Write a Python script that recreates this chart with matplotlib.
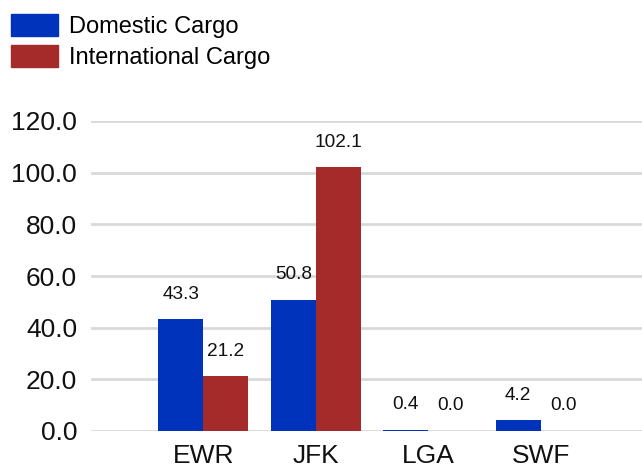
import matplotlib
matplotlib.use("Agg")
import matplotlib.pyplot as plt
from matplotlib.patches import Patch
import numpy as np

plt.rcParams['font.family'] = ['Liberation Sans', 'DejaVu Sans']

categories = ["EWR", "JFK", "LGA", "SWF"]
domestic = [43.3, 50.8, 0.4, 4.2]
international = [21.2, 102.1, 0.0, 0.0]
series_names = ["Domestic Cargo", "International Cargo"]
yticks = [0, 20, 40, 60, 80, 100, 120]

c_dom = "#0033bb"
c_int = "#a52a2a"

fig = plt.figure(figsize=(6.42, 4.67), dpi=100)
ax = fig.add_axes([91/642, 36/467, 551/642, 310/467])

x = np.arange(len(categories))
w = 0.4
b1 = ax.bar(x - w/2, domestic, w, color=c_dom, zorder=3)
b2 = ax.bar(x + w/2, international, w, color=c_int, zorder=3)

for bars, vals in ((b1, domestic), (b2, international)):
    for rect, v in zip(bars, vals):
        ax.annotate(f"{v:.1f}", (rect.get_x() + rect.get_width()/2, v),
                    xytext=(0, 25), textcoords="offset pixels",
                    ha="center", va="center", fontsize=13.7, color="#111111")

ax.set_xlim(-1.0, 3.9)
ax.set_ylim(0, 120)
ax.set_yticks(yticks)
ax.set_yticklabels([f"{v:.1f}" for v in yticks])
ax.set_xticks(x)
ax.set_xticklabels(categories)
ax.tick_params(axis='both', length=0, labelsize=19, colors="#111111")
ax.tick_params(axis='y', pad=10)
ax.tick_params(axis='x', pad=9.5)
ax.yaxis.grid(True, color="#d9d9d9", linewidth=2, zorder=0)
for s in ax.spines.values():
    s.set_visible(False)

handles = [Patch(color=c_dom), Patch(color=c_int)]
fig.legend(handles, series_names, loc="upper left", bbox_to_anchor=(-0.014, 1.013),
           frameon=False, fontsize=17, handlelength=2.0, handleheight=1.05,
           handletextpad=0.45, labelspacing=0.3, borderpad=0.35)

fig.savefig("out.png", dpi=100)
